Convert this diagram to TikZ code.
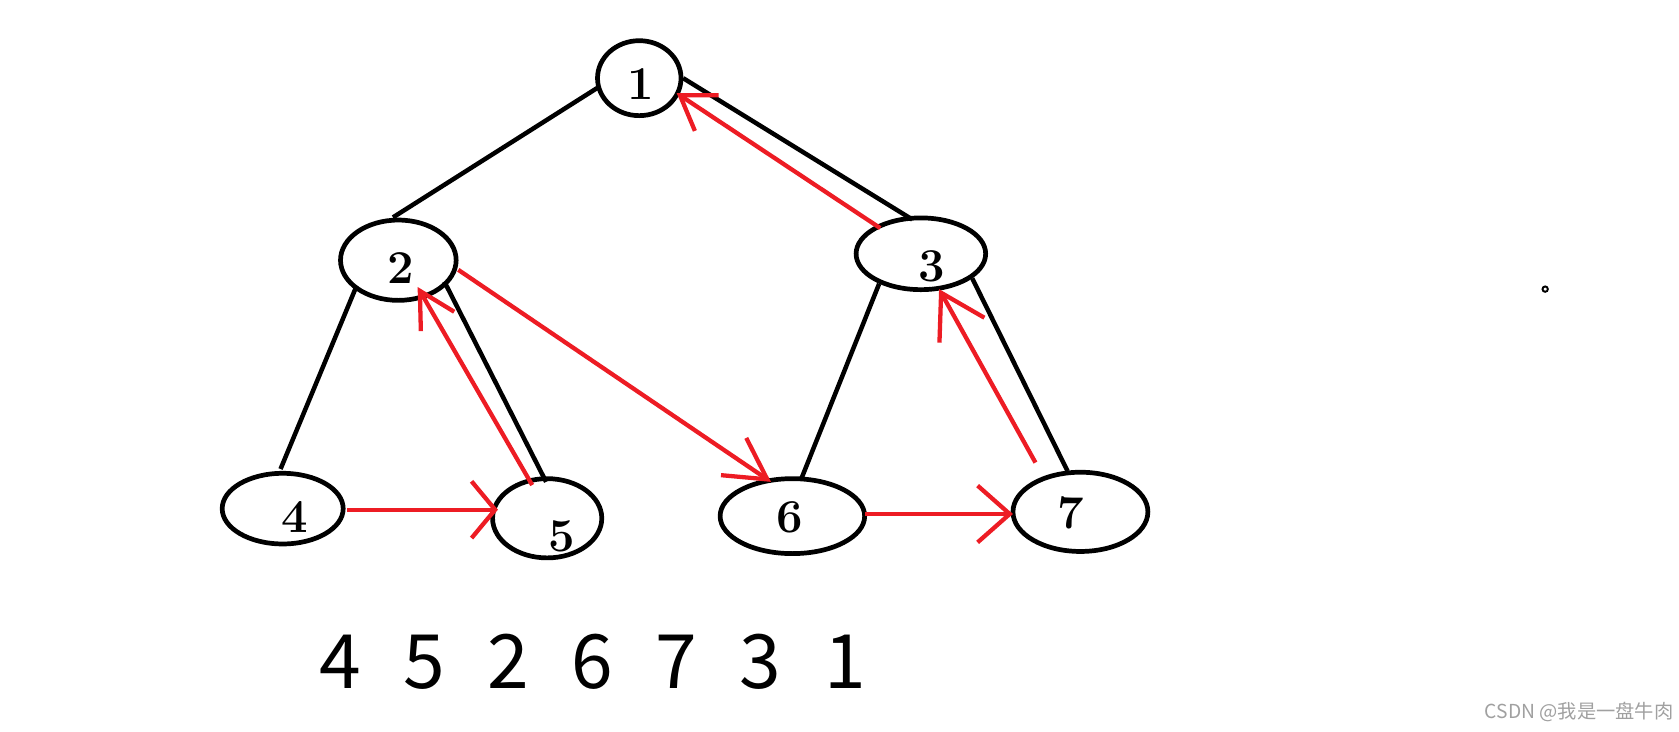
\documentclass[tikz,border=0pt]{standalone}
\usepackage{fontspec}
\newfontfamily\cjk{Noto Sans CJK SC}
\usetikzlibrary{shapes.geometric,arrows.meta,calc}
\definecolor{pred}{RGB}{237,28,36}
\definecolor{wmgray}{RGB}{160,160,160}
\tikzset{
  treenode/.style={draw=black, line width=4.4pt, ellipse, inner sep=0pt},
  lbl/.style={anchor=base, inner sep=0pt, font=\fontsize{44}{44}\selectfont\bfseries},
  edge/.style={draw=black, line width=4.2pt},
  trav/.style={draw=pred, line width=4pt},
}
\begin{document}
\begin{tikzpicture}[x=1pt,y=-1pt]
\useasboundingbox (0,0) rectangle (1568,683);
% nodes
\node[treenode, minimum width=78pt,  minimum height=70pt] (n1) at (597,73) {};
\node[treenode, minimum width=108pt, minimum height=75pt] (n2) at (372,243) {};
\node[treenode, minimum width=121pt, minimum height=67pt] (n3) at (860,237) {};
\node[treenode, minimum width=113pt, minimum height=66pt] (n4) at (264,475) {};
\node[treenode, minimum width=102pt, minimum height=74pt] (n5) at (511,484) {};
\node[treenode, minimum width=135pt, minimum height=70pt] (n6) at (740,482) {};
\node[treenode, minimum width=126pt, minimum height=74pt] (n7) at (1009,478) {};
% labels
\node[lbl] (t1) at (598,93) {1};
\node[lbl] (t2) at (374,265) {2};
\node[lbl] (t3) at (870,263) {3};
\node[lbl] (t4) at (275,497) {4};
\node[lbl] (t5) at (525,515) {5};
\node[lbl] (t6) at (738,497) {6};
\node[lbl] (t7) at (1000,494) {7};
% tree edges
\draw[edge] ($(n1)+(-39,9)$) -- ($(n2)+(-5,-40)$);
\draw[edge] ($(n1)+(41,0)$) -- ($(n3)+(-8,-32)$);
\draw[edge] ($(n2)+(-39,24)$) -- ($(n4)+(-2,-37)$);
\draw[edge] ($(n2)+(43,20)$) -- ($(n5)+(-1,-34)$);
\draw[edge] ($(n3)+(-39,28)$) -- ($(n6)+(8,-34)$);
\draw[edge] ($(n3)+(48,23)$) -- ($(n7)+(-12,-38)$);
% traversal arrows
\draw[trav, -{Straight Barb[length=22pt,width=53pt]}] ($(n4)+(60,1)$) -- ($(n5)+(-46,-8)$);
\draw[trav, -{Straight Barb[length=33pt,width=36pt]}] ($(n5)+(-14,-31)$) -- ($(n2)+(18,25)$);
\draw[trav, -{Straight Barb[length=38pt,width=42pt]}] ($(n2)+(56,9)$) -- ($(n6)+(-20,-32)$);
\draw[trav, -{Straight Barb[length=30pt,width=53pt]}] ($(n6)+(68,-2)$) -- ($(n7)+(-63,2)$);
\draw[trav, -{Straight Barb[length=40pt,width=48pt]}] ($(n7)+(-42,-46)$) -- ($(n3)+(17,33)$);
\draw[trav, -{Straight Barb[length=30pt,width=40pt]}] ($(n3)+(-38,-24)$) -- ($(n1)+(35,14)$);
% result sequence
\node[anchor=base, inner sep=0pt, font=\cjk\fontsize{70}{70}\selectfont] (seq) at (553.5,643)
  {\makebox[78.5pt]{4}\makebox[78.5pt]{5}\makebox[78.5pt]{2}\makebox[78.5pt]{6}\makebox[78.5pt]{7}\makebox[78.5pt]{3}\makebox[78.5pt]{1}};
% stray dot
\draw[line width=1.8pt] (1443,270) circle (2.5pt);
% watermark
\node[anchor=base east, inner sep=0pt, text=wmgray, font=\cjk\fontsize{18}{18}\selectfont] (wm) at (1563,671) {CSDN @我是一盘牛肉};
\end{tikzpicture}
\end{document}
